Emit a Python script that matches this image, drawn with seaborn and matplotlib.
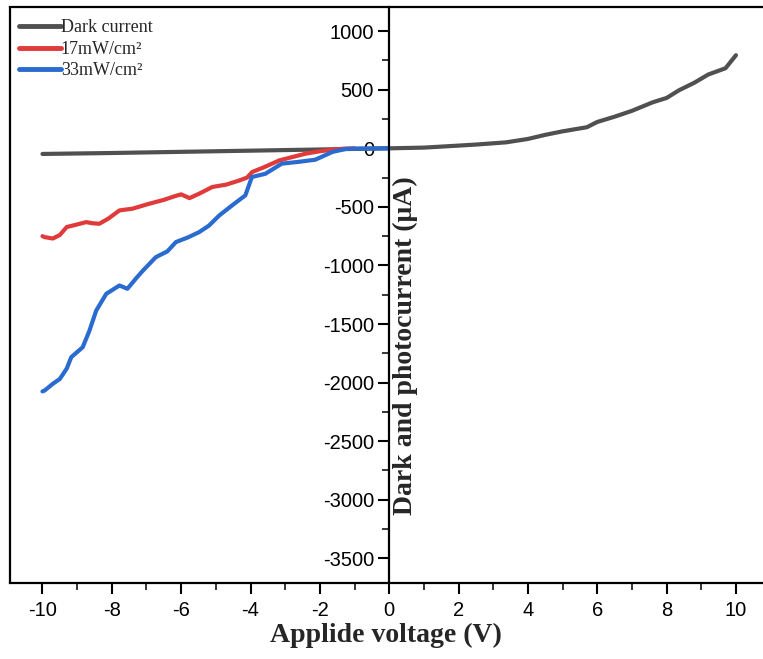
import numpy as np
import pandas as pd
import matplotlib
matplotlib.use("Agg")
import matplotlib.pyplot as plt
from matplotlib.ticker import MultipleLocator
import seaborn as sns

# Dark current, full sweep -10 V .. +10 V
dark_v = [-10.0, -8.0, -6.0, -4.0, -2.0, 0.0, 1.0, 1.64, 2.5, 3.37, 4.0, 4.5,
          5.0, 5.7, 6.0, 6.5, 7.0, 7.6, 8.0, 8.36, 8.8, 9.2, 9.7, 10.0]
dark_i = [-48, -40, -30, -20, -10, 0, 6, 17, 32, 51, 80, 115,
          145, 180, 225, 270, 320, 393, 430, 496, 560, 630, 684, 795]

# Photocurrent under 17 mW/cm2
red_v = [-10.0, -9.94, -9.7, -9.5, -9.3, -9.0, -8.74, -8.55, -8.36, -8.1, -7.78,
         -7.4, -6.92, -6.5, -6.2, -6.0, -5.76, -5.5, -5.1, -4.7, -4.32, -4.1,
         -3.95, -3.6, -3.17, -2.8, -2.4, -2.0, -1.6, -1.3, -1.0]
red_i = [-750, -758, -770, -740, -672, -650, -630, -640, -644, -600, -530,
         -515, -473, -440, -410, -393, -425, -390, -330, -310, -274, -250,
         -202, -160, -103, -75, -45, -25, -10, -3, 0]

# Photocurrent under 33 mW/cm2
blue_v = [-10.0, -9.94, -9.7, -9.5, -9.3, -9.17, -8.84, -8.65, -8.45, -8.16,
          -7.78, -7.55, -7.3, -7.1, -6.73, -6.4, -6.15, -5.8, -5.48, -5.2,
          -4.9, -4.5, -4.15, -3.96, -3.57, -3.1, -2.6, -2.13, -1.64, -1.25,
          -0.8, 0.0]
blue_i = [-2075, -2068, -2010, -1969, -1880, -1783, -1698, -1560, -1385, -1242,
          -1171, -1199, -1110, -1043, -929, -880, -800, -760, -715, -660,
          -573, -480, -402, -245, -217, -131, -115, -97, -31, -5,
          -2, 0]

labels = ["Dark current", "17mW/cm²", "33mW/cm²"]
colors = ["#505050", "#e03a3a", "#2a6bd0"]

df = pd.concat([
    pd.DataFrame({"V": dark_v, "I": dark_i, "series": labels[0]}),
    pd.DataFrame({"V": red_v, "I": red_i, "series": labels[1]}),
    pd.DataFrame({"V": blue_v, "I": blue_i, "series": labels[2]}),
])

sns.set_style("ticks")
plt.rcParams["font.family"] = ["Liberation Sans", "DejaVu Sans"]
plt.rcParams["axes.unicode_minus"] = False

fig = plt.figure(figsize=(7.63, 6.59), dpi=100)
ax = fig.add_axes([0.0125, 0.1155, 0.9875, 0.8745])

sns.lineplot(data=df, x="V", y="I", hue="series", hue_order=labels,
             palette=colors, linewidth=3, sort=False, estimator=None,
             legend=True, ax=ax)

ax.set_xlim(-10.95, 10.78)
ax.set_ylim(-3710, 1210)

# y axis drawn through V = 0
ax.spines["left"].set_position(("data", 0))
ax.spines["right"].set_visible(False)
for s in ["left", "top", "bottom"]:
    ax.spines[s].set_linewidth(1.6)
    ax.spines[s].set_color("black")
ax.plot([0, 0], [0, 1], transform=ax.transAxes, color="black",
        linewidth=1.6, clip_on=False)

ax.xaxis.set_major_locator(MultipleLocator(2))
ax.xaxis.set_minor_locator(MultipleLocator(1))
ax.yaxis.set_major_locator(MultipleLocator(500))
ax.yaxis.set_minor_locator(MultipleLocator(250))
ax.set_yticks(np.arange(-3500, 1001, 500))
ax.tick_params(axis="both", which="major", length=8, width=1.5,
               labelsize=14.5, colors="black", direction="out")
ax.tick_params(axis="both", which="minor", length=5, width=1.3,
               direction="out")
ax.tick_params(axis="x", pad=5)
ax.tick_params(axis="y", pad=3)
ax.set_xticks(np.arange(-10, 11, 2))
ax.set_xticklabels([str(v) for v in range(-10, 11, 2)])

ax.set_xlabel("Applide voltage (V)", fontsize=20, fontweight="bold",
              family="Liberation Serif", labelpad=2)
ax.set_ylabel("")
fig.text(0.532, 0.475, "Dark and photocurrent (μA)", rotation=90,
         ha="center", va="center", fontsize=20, fontweight="bold",
         family="Liberation Serif")

leg = ax.legend(loc="upper left", bbox_to_anchor=(0.008, 0.984),
                frameon=False,
                prop={"family": "Liberation Serif", "size": 13},
                handlelength=2.3, handletextpad=0.0, labelspacing=0.25,
                borderaxespad=0.0, borderpad=0.2)
for h in leg.get_lines():
    h.set_linewidth(3.5)

fig.savefig("out.png", dpi=100)
